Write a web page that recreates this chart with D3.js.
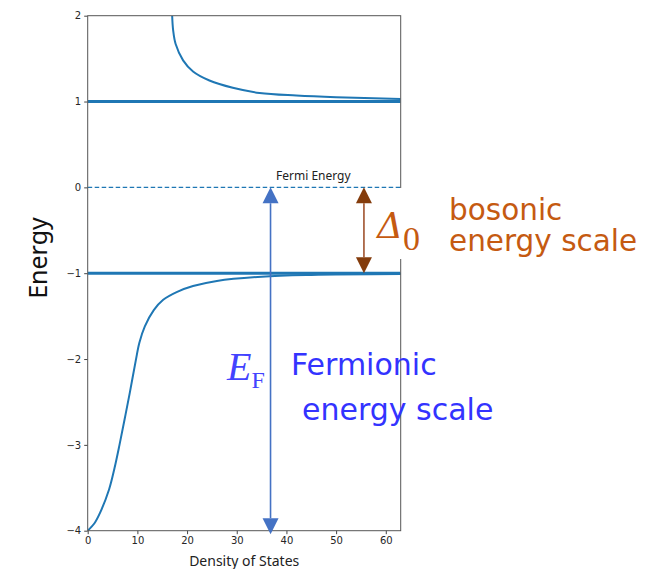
<!DOCTYPE html>
<html>
<head>
<meta charset="utf-8">
<script src="https://cdn.jsdelivr.net/npm/d3@7"></script>
<style>
  body { margin: 0; background: #fff; }
  svg { display: block; }
</style>
</head>
<body>
<div id="chart"></div>
<script>
// values
const upperDOS = [17.0, 17.2, 17.7, 19.2, 21.2, 24.5, 29.2, 34.6, 42, 50, 63];
const upperE   = [2.0, 1.83, 1.67, 1.48, 1.35, 1.245, 1.16, 1.10, 1.07, 1.05, 1.03];

const lowerDOS = [0, 1.4, 2.5, 4.3, 5.4, 6.4, 7.4, 8.45, 9.7, 10.4, 11.5, 13.3, 15.2, 17.9, 21.2, 26, 35, 45, 63];
const lowerE   = [-4.0, -3.91, -3.79, -3.52, -3.27, -3.0, -2.71, -2.40, -2.01, -1.81, -1.62, -1.43, -1.31, -1.22, -1.15, -1.09, -1.04, -1.02, -1.01];

const gapLevels = [1, -1];
const fermiLevel = 0;

const xTicks = [0, 10, 20, 30, 40, 50, 60];
const yTicks = [2, 1, 0, -1, -2, -3, -4];

// arrows: [x position, start energy, end energy]
const fermiArrow = [36.8, 0, -4.04];
const gapArrow = [55.6, 0, -1];

const W = 646, H = 569;
const margin = {top: 15.7, right: 245.3, bottom: 38.3, left: 87.7},
    width = W - margin.left - margin.right,
    height = H - margin.top - margin.bottom;

const svg = d3.select("#chart").append("svg")
    .attr("width", W)
    .attr("height", H)
    .attr("font-family", "'Noto Sans', 'DejaVu Sans', sans-serif");

const x = d3.scaleLinear().domain([0, 63]).range([margin.left, margin.left + width]);
const y = d3.scaleLinear().domain([-4, 2]).range([margin.top + height, margin.top]);

svg.append("defs").append("clipPath").attr("id", "plot-clip")
    .append("rect")
    .attr("x", margin.left).attr("y", margin.top)
    .attr("width", width).attr("height", height);

const plot = svg.append("g").attr("clip-path", "url(#plot-clip)");

// gap edges
plot.selectAll(".gap")
    .data(gapLevels)
    .enter().append("line")
    .attr("class", "gap")
    .attr("x1", x(0)).attr("x2", x(63))
    .attr("y1", d => y(d)).attr("y2", d => y(d))
    .attr("stroke", "#1f77b4")
    .attr("stroke-width", 3);

// fermi level
plot.append("line")
    .attr("x1", x(0)).attr("x2", x(63))
    .attr("y1", y(fermiLevel)).attr("y2", y(fermiLevel))
    .attr("stroke", "#1f77b4")
    .attr("stroke-width", 1.2)
    .attr("stroke-dasharray", "4.5,2.5");

const line = d3.line()
    .x(d => x(d[0]))
    .y(d => y(d[1]))
    .curve(d3.curveCatmullRom.alpha(0.5));

plot.append("path")
    .datum(d3.zip(upperDOS, upperE))
    .attr("d", line)
    .attr("fill", "none")
    .attr("stroke", "#1f77b4")
    .attr("stroke-width", 2);

plot.append("path")
    .datum(d3.zip(lowerDOS, lowerE))
    .attr("d", line)
    .attr("fill", "none")
    .attr("stroke", "#1f77b4")
    .attr("stroke-width", 2);

// axes
const fmt = d => d < 0 ? "\u2212" + Math.abs(d) : String(d);

const xAxis = svg.append("g")
    .attr("transform", `translate(0,${margin.top + height})`)
    .call(d3.axisBottom(x).tickValues(xTicks).tickSize(3.5).tickPadding(3).tickFormat(fmt));

const yAxis = svg.append("g")
    .attr("transform", `translate(${margin.left},0)`)
    .call(d3.axisLeft(y).tickValues(yTicks).tickSize(3.5).tickPadding(3).tickFormat(fmt));

[xAxis, yAxis].forEach(a => {
    a.select(".domain").remove();
    a.selectAll("line").attr("stroke", "#444");
    a.selectAll("text").attr("fill", "#262626").attr("font-size", 10)
        .attr("font-family", "'DejaVu Sans', sans-serif");
});

svg.append("rect")
    .attr("x", margin.left).attr("y", margin.top)
    .attr("width", width).attr("height", height)
    .attr("fill", "none")
    .attr("stroke", "#555")
    .attr("stroke-width", 1);

svg.append("text")
    .attr("x", margin.left + width / 2)
    .attr("y", 566)
    .attr("text-anchor", "middle")
    .attr("font-size", 14)
    .attr("fill", "#222")
    .text("Density of States");

svg.append("text")
    .attr("transform", "translate(47,258) rotate(-90)")
    .attr("text-anchor", "middle")
    .attr("font-size", 25)
    .attr("fill", "#111")
    .text("Energy");

svg.append("text")
    .attr("x", 276)
    .attr("y", 180)
    .attr("font-size", 12)
    .attr("fill", "#222")
    .text("Fermi Energy");

// arrows
function arrow(spec, lineColor, headColor) {
    const ax = x(spec[0]), y0 = y(spec[1]), y1 = y(spec[2]);
    const dir = y1 > y0 ? 1 : -1;
    const hl = 16, hw = 8;
    svg.append("line")
        .attr("x1", ax).attr("x2", ax)
        .attr("y1", y0 + dir * hl).attr("y2", y1 - dir * hl)
        .attr("stroke", lineColor)
        .attr("stroke-width", 1.6);
    [[y0, dir], [y1, -dir]].forEach(([tip, d]) => {
        svg.append("path")
            .attr("d", `M${ax},${tip} L${ax - hw},${tip + d * hl} L${ax + hw},${tip + d * hl} Z`)
            .attr("fill", headColor);
    });
}

arrow(fermiArrow, "#4472c4", "#4472c4");
arrow(gapArrow, "#a0522d", "#843c0c");

// Delta_0 label with white box
svg.append("rect")
    .attr("x", 372).attr("y", 188)
    .attr("width", 50).attr("height", 71)
    .attr("fill", "#fff");

const delta = svg.append("text")
    .attr("x", 377)
    .attr("y", 238)
    .attr("font-family", "'DejaVu Serif', 'Liberation Serif', serif")
    .attr("font-size", 36)
    .attr("fill", "#c55a11");
delta.append("tspan").attr("font-style", "italic").text("\u0394");
delta.append("tspan").attr("dy", 12).attr("font-family", "'Liberation Serif', serif").attr("font-size", 34).text("0");

const bigFont = "'DejaVu Sans', sans-serif";

svg.append("text")
    .attr("x", 449).attr("y", 220)
    .attr("font-family", bigFont)
    .attr("font-size", 29.5)
    .attr("fill", "#c55a11")
    .text("bosonic");

svg.append("text")
    .attr("x", 449).attr("y", 251)
    .attr("font-family", bigFont)
    .attr("font-size", 29.5)
    .attr("fill", "#c55a11")
    .text("energy scale");

// E_F label
const ef = svg.append("text")
    .attr("x", 227)
    .attr("y", 380)
    .attr("font-family", "'Liberation Serif', serif")
    .attr("font-size", 40)
    .attr("fill", "#4343ff");
ef.append("tspan").attr("font-style", "italic").text("E");
ef.append("tspan").attr("dy", 8).attr("font-size", 24).text("F");

svg.append("text")
    .attr("x", 291).attr("y", 375)
    .attr("font-family", bigFont)
    .attr("font-size", 30)
    .attr("fill", "#3333ff")
    .text("Fermionic");

svg.append("text")
    .attr("x", 302).attr("y", 420)
    .attr("font-family", bigFont)
    .attr("font-size", 30)
    .attr("fill", "#3333ff")
    .text("energy scale");
</script>
</body>
</html>
